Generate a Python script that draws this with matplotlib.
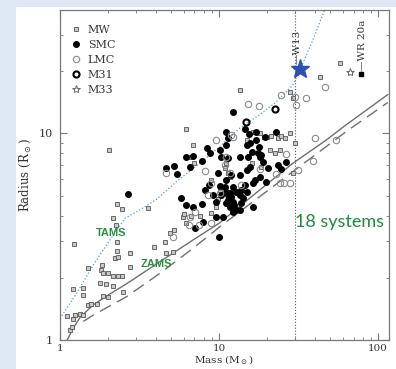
import matplotlib
matplotlib.use("Agg")
import matplotlib.pyplot as plt
from matplotlib.patches import Rectangle
import numpy as np

# masses (Msun) and radii (Rsun)
mw_mass = [2.04, 1.22, 13.5, 6.24, 6.87, 2.29, 2.47, 2.14, 2.25, 3.58, 2.27, 2.29, 2.21, 2.32,
           2.75, 2.75, 1.51, 1.83, 1.80, 1.85, 2.01, 2.16, 2.32, 2.47, 1.78, 1.96, 2.16, 2.50,
           2.01, 1.87, 1.20, 1.39, 1.40, 1.51, 1.57, 1.71, 1.34, 1.39, 1.20, 1.11, 1.24, 1.16,
           1.19, 3.89, 4.56, 4.90, 5.19, 4.67, 5.14, 5.94, 6.00, 6.70, 6.24, 7.56, 8.95, 10.1,
           9.86, 9.62, 8.95, 6.93, 6.61, 10.9, 11.1, 11.4, 11.7, 12.2, 14.9, 16.3, 18.0, 19.1,
           20.0, 21.1, 23.5, 24.6, 25.8, 27.8, 18.0, 16.0, 18.4, 20.8, 22.4, 24.0, 27.8, 29.1,
           29.9, 29.1, 42.8, 57.2]
mw_radius = [8.30, 2.91, 16.2, 10.5, 8.81, 4.53, 4.29, 3.88, 3.60, 4.34, 2.99, 2.71, 2.48, 2.53,
             2.63, 2.26, 2.24, 2.31, 2.18, 2.10, 2.12, 2.03, 2.03, 2.03, 1.88, 1.87, 1.82, 1.71,
             1.62, 1.63, 1.76, 1.78, 1.65, 1.48, 1.50, 1.50, 1.34, 1.32, 1.27, 1.31, 1.32, 1.12,
             1.15, 2.83, 2.99, 3.31, 3.41, 2.63, 2.66, 3.95, 4.07, 3.98, 3.67, 3.98, 4.13, 5.32,
             4.81, 4.42, 5.95, 7.16, 7.71, 6.77, 7.16, 6.40, 6.17, 4.26, 9.28, 10.1, 10.0, 9.64,
             9.64, 9.71, 9.46, 9.71, 9.53, 10.0, 7.71, 7.16, 6.90, 8.30, 8.00, 8.30, 15.9, 14.8,
             8.95, 6.40, 18.8, 22.0]

smc_mass = [2.66, 12.2, 14.5, 4.67, 5.19, 5.40, 6.24, 6.55, 6.87, 7.86, 8.41, 8.73, 10.2, 11.1,
            11.4, 11.1, 15.4, 17.1, 17.8, 22.9, 19.3, 5.80, 6.24, 6.87, 7.03, 7.94, 7.86, 8.13,
            8.65, 9.17, 9.62, 9.53, 9.86, 10.0, 10.6, 10.1, 10.3, 10.9, 11.1, 11.4, 11.7, 11.9,
            12.2, 12.5, 12.2, 12.8, 13.5, 11.7, 11.4, 11.1, 12.2, 12.8, 13.5, 13.8, 14.5, 14.1,
            13.8, 14.9, 15.2, 15.6, 16.0, 16.3, 16.7, 16.3, 17.6, 18.0, 18.4, 18.9, 18.0, 19.8,
            20.3, 26.5, 24.6, 23.5, 11.1, 11.4, 10.3, 13.5, 14.9, 15.7, 17.1, 14.9, 13.5, 11.8]
smc_radius = [5.09, 12.7, 10.5, 6.77, 6.95, 6.33, 7.71, 6.90, 7.77, 7.38, 8.46, 8.06, 8.30, 8.78,
              9.53, 10.2, 9.93, 10.2, 8.62, 10.1, 9.64, 4.88, 4.50, 4.42, 3.47, 3.71, 4.55, 5.32,
              5.62, 5.03, 4.67, 3.95, 6.40, 3.16, 3.95, 5.56, 5.03, 5.52, 5.22, 5.03, 5.12, 4.94,
              4.67, 4.50, 4.18, 4.26, 4.26, 4.42, 4.76, 4.58, 5.52, 5.22, 5.03, 5.32, 5.62, 4.85,
              4.58, 5.22, 7.71, 6.90, 8.15, 5.73, 5.95, 4.42, 8.00, 7.71, 7.85, 7.29, 6.17, 5.84,
              6.77, 7.29, 6.70, 7.03, 5.95, 7.57, 7.71, 7.71, 8.78, 8.95, 9.28, 6.65, 6.29, 6.29]

lmc_mass = [4.62, 8.21, 8.95, 8.53, 10.1, 11.1, 10.9, 11.7, 11.9, 13.8, 18.0, 22.7, 24.0, 25.5,
            27.8, 26.5, 31.3, 38.9, 39.8, 54.5, 15.2, 17.8, 24.6, 29.9, 30.3, 35.0, 46.5, 6.55,
            7.03, 6.48, 7.49, 8.95, 5.14, 9.62, 12.2]
lmc_radius = [6.45, 6.60, 5.73, 5.03, 5.16, 7.71, 7.03, 6.40, 9.82, 5.62, 6.70, 6.36, 5.77, 5.77,
              5.73, 7.94, 6.65, 7.38, 9.53, 9.28, 13.9, 13.6, 15.4, 15.0, 13.7, 14.8, 16.8, 3.95,
              4.18, 3.60, 3.60, 3.67, 3.16, 9.28, 9.64]

m31_mass = [14.7, 22.4]
m31_radius = [11.3, 13.1]
m33_mass = [66.7]
m33_radius = [19.7]

w13_mass, w13_radius = 32.4, 20.5
wr20a_mass, wr20a_radius = 78.2, 19.4

zams_mass = [1.11, 1.21, 1.34, 1.62, 2.06, 2.62, 4.24, 6.87, 10.0, 18.0, 29.1, 47.2, 63.0, 115]
zams_radius = [1.0, 1.14, 1.29, 1.48, 1.67, 1.87, 2.39, 3.05, 3.67, 5.32, 7.16, 9.28, 11.0, 15.4]
zams_low_mass = [1.40, 1.62, 2.62, 4.24, 6.87, 10.1, 18.0, 29.1, 63.0, 115]
zams_low_radius = [1.23, 1.32, 1.62, 2.10, 2.78, 3.53, 4.94, 6.53, 10.2, 14.1]
tams_mass = [1.0, 1.27, 1.62, 2.06, 2.56, 3.18, 4.04, 5.40, 7.56, 10.1, 13.5, 18.0, 22.9,
             29.1, 32.9, 38.9, 46.0]
tams_radius = [1.27, 1.68, 2.31, 3.05, 3.88, 4.26, 4.79, 5.84, 7.16, 8.62, 10.6, 12.3, 14.2,
               17.1, 21.0, 28.3, 39.5]

cut_mass = 30

fig = plt.figure(figsize=(3.96, 3.69), dpi=100)
fig.patch.set_facecolor('#dde8f4')
# white panel behind the plot
fig.patches.append(Rectangle((16/396, 0), 1, 1 - 7/369, transform=fig.transFigure,
                             facecolor='white', edgecolor='none', zorder=-5))

ax = fig.add_axes([60/396, 1 - 340/369, 329/396, 330/369])
ax.set_xscale('log')
ax.set_yscale('log')
ax.set_xlim(1, 117)
ax.set_ylim(1, 39.5)

gray = '#6f6f6f'
ax.plot(tams_mass, tams_radius, ls=':', color='#5a9bc8', lw=0.9)
ax.plot(zams_mass, zams_radius, ls='-', color=gray, lw=1.0)
ax.plot(zams_low_mass, zams_low_radius, color=gray, lw=1.0, dashes=(9, 5))
ax.axvline(cut_mass, color='#555555', ls=':', lw=0.8)

ax.plot(mw_mass, mw_radius, ls='none', marker='s', ms=2.4, mfc='#c8c8c8', mec='#555555',
        mew=0.6, label='MW')
ax.plot(smc_mass, smc_radius, ls='none', marker='o', ms=4.0, mfc='black', mec='black',
        label='SMC')
ax.plot(lmc_mass, lmc_radius, ls='none', marker='o', ms=4.6, mfc='none', mec='#8a8a8a',
        mew=0.8, label='LMC')
ax.plot(m31_mass, m31_radius, ls='none', marker='o', ms=4.4, mfc='none', mec='black',
        mew=1.5, label='M31')
ax.plot(m33_mass, m33_radius, ls='none', marker='*', ms=6, mfc='none', mec='#666666',
        mew=0.7, label='M33')
ax.plot([wr20a_mass], [wr20a_radius], ls='none', marker='s', ms=2.2, color='black')
ax.plot([w13_mass], [w13_radius], ls='none', marker='*', ms=14, color='#2d50b4')

ax.text(31, 21.6, '\u2014W13', rotation=90, ha='center', va='bottom', fontsize=7.5,
        family='DejaVu Serif', color='#333333')
ax.text(80, 20.0, '\u2014WR 20a', rotation=90, ha='center', va='bottom', fontsize=7.5,
        family='DejaVu Serif', color='#333333')

ax.text(2.11, 3.28, 'TAMS', color='#2a9040', fontsize=8, fontweight='bold',
        family='Liberation Sans', ha='center', va='center')
ax.text(4.04, 2.33, 'ZAMS', color='#2a9040', fontsize=8, fontweight='bold',
        family='Liberation Sans', ha='center', va='center')
ax.text(57, 3.71, '18 systems', color='#1f8a3a', fontsize=13, family='Lato',
        ha='center', va='center')

leg = ax.legend(loc='upper left', bbox_to_anchor=(0.0, 0.985), frameon=False,
                prop={'family': 'DejaVu Serif', 'size': 8}, handletextpad=0.6,
                labelspacing=0.45, handlelength=1.0, borderaxespad=0.5)
for t in leg.get_texts():
    t.set_color('#333333')

for s in ax.spines.values():
    s.set_color('#777777')
    s.set_linewidth(0.9)
ax.tick_params(which='both', direction='in', top=True, right=True, colors='#777777',
               labelcolor='#333333', labelsize=8)
ax.tick_params(which='major', length=5, pad=5)
ax.tick_params(which='minor', length=2.5)
ax.tick_params(axis='x', which='major', pad=3, labelsize=7.5)
ax.set_xticks([1, 10, 100])
ax.set_xticklabels(['1', '10', '100'], family='DejaVu Serif')
ax.set_yticks([1, 10])
ax.set_yticklabels(['1', '10'], family='DejaVu Serif')
ax.set_xlabel(r'Mass (M$_\odot$)', family='DejaVu Serif', fontsize=7.5, color='#333333')
ax.xaxis.set_label_coords(0.5, -0.04)
ax.set_ylabel(r'Radius (R$_\odot$)', family='DejaVu Serif', fontsize=8.5, color='#333333',
              labelpad=4)

fig.savefig('out.png', dpi=100)
